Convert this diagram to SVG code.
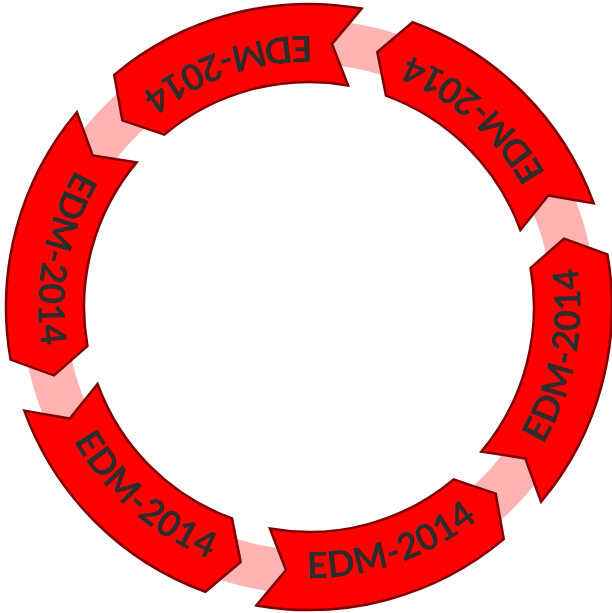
<svg xmlns="http://www.w3.org/2000/svg" width="612" height="613" viewBox="0 0 612 613">
<style>
.ring{fill:none;stroke:#ffb3b3;stroke-width:44}
.seg{fill:#ff0000;stroke:#800000;stroke-width:2.5;stroke-linejoin:miter}
.lbl{font-family:Lato,"DejaVu Sans",sans-serif;font-weight:bold;font-size:36px;fill:#2d2d2d;letter-spacing:0.6px}
</style>
<defs>
<path id="seg" d="M274.611,128.053 L248.079,90.293 L203.919,95.089 A225,225 0 0 0 203.919,-95.089 L228.631,-132 L274.611,-128.053 A303,303 0 0 1 274.611,128.053 Z"/>
<path id="tp" d="M219.244,159.290 A271,271 0 0 0 194.941,-188.252" fill="none"/>
</defs>
<rect width="612" height="613" fill="#ffffff"/>
<g id="connectors">
<circle class="ring" cx="309" cy="307" r="265"/>
</g>
<g id="arrow1" transform="translate(309 307) rotate(15)">
<use href="#seg" class="seg"/>
<text class="lbl"><textPath href="#tp" startOffset="50%" text-anchor="middle">EDM-2014</textPath></text>
</g>
<g id="arrow2" transform="translate(309 307) rotate(75)">
<use href="#seg" class="seg"/>
<text class="lbl"><textPath href="#tp" startOffset="50%" text-anchor="middle">EDM-2014</textPath></text>
</g>
<g id="arrow3" transform="translate(309 307) rotate(135)">
<use href="#seg" class="seg"/>
<text class="lbl"><textPath href="#tp" startOffset="50%" text-anchor="middle">EDM-2014</textPath></text>
</g>
<g id="arrow4" transform="translate(309 307) rotate(195)">
<use href="#seg" class="seg"/>
<text class="lbl"><textPath href="#tp" startOffset="50%" text-anchor="middle">EDM-2014</textPath></text>
</g>
<g id="arrow5" transform="translate(309 307) rotate(255)">
<use href="#seg" class="seg"/>
<text class="lbl"><textPath href="#tp" startOffset="50%" text-anchor="middle">EDM-2014</textPath></text>
</g>
<g id="arrow6" transform="translate(309 307) rotate(315)">
<use href="#seg" class="seg"/>
<text class="lbl"><textPath href="#tp" startOffset="50%" text-anchor="middle">EDM-2014</textPath></text>
</g>
</svg>
